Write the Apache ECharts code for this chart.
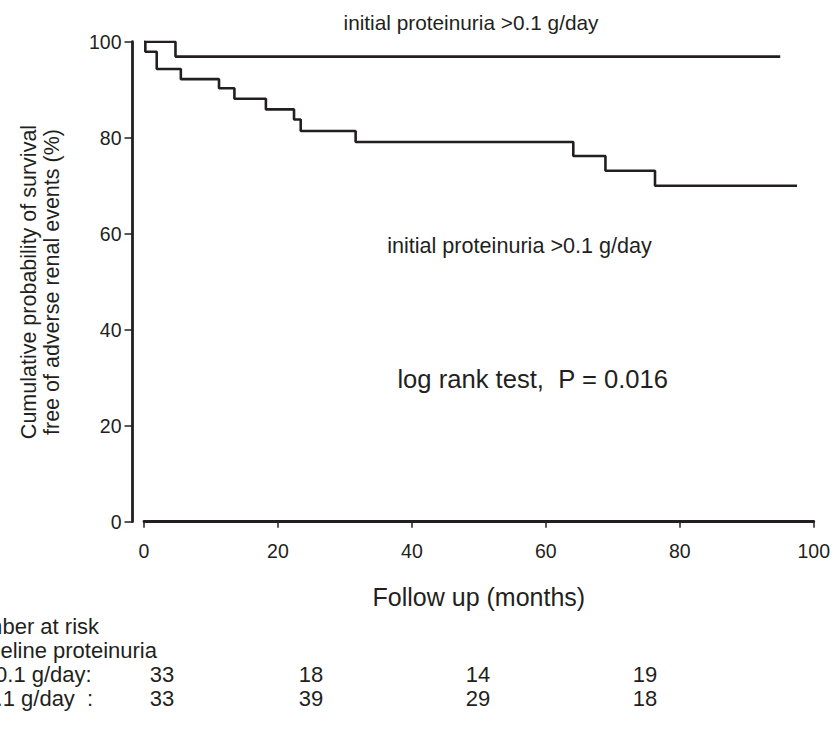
<!DOCTYPE html>
<html><head><meta charset="utf-8">
<script src="https://cdn.jsdelivr.net/npm/echarts/dist/echarts.min.js"></script>
<style>html,body{margin:0;padding:0;background:#fff}#c{width:833px;height:737px}</style>
</head><body><div id="c"></div>
<script>
// ---- data ----
const lowProtTimes  = [0, 4.7, 95.0];
const lowProtSurv   = [100, 96.9, 96.9];
const highProtTimes = [0, 0.2, 1.9, 5.5, 11.2, 13.5, 18.2, 22.4, 23.4, 31.6, 64.1, 68.9, 76.3, 97.5];
const highProtSurv  = [100, 97.9, 94.3, 92.2, 90.3, 88.1, 85.9, 83.8, 81.4, 79.1, 76.2, 73.1, 70.0, 70.0];
const xTickLabels = ['0', '20', '40', '60', '80', '100'];
const yTickLabels = ['0', '20', '40', '60', '80', '100'];
const riskHeader = ['Number at risk', 'Baseline proteinuria'];
const riskRowLabels = ['\u22640.1 g/day:', '>0.1 g/day  :'];
const riskLow  = [33, 18, 14, 19];
const riskHigh = [33, 39, 29, 18];
const curveLabelTop = 'initial proteinuria >0.1 g/day';
const curveLabelMid = 'initial proteinuria >0.1 g/day';
const testLabel = 'log rank test,  P = 0.016';
const xTitle = 'Follow up (months)';
const yTitle = ['Cumulative probability of survival', 'free of adverse renal events (%)'];

// ---- layout / style ----
const INK = '#231f20';
const FF = '"Liberation Sans", Arial, Helvetica, sans-serif';
const riskColX = [162, 311, 478, 645];
const riskRowY = [626, 650, 674, 698];
const riskLabelX = [-44, -37.5, -17, -28.5];

const zip = (a, b) => a.map((v, i) => [v, b[i]]);

const graphics = [
  {type:'text', x:471, y:22, style:{text:curveLabelTop, font:'20.8px ' + FF, fill:INK, textAlign:'center', textVerticalAlign:'middle'}},
  {type:'text', x:519.5, y:245.5, style:{text:curveLabelMid, font:'21.6px ' + FF, fill:INK, textAlign:'center', textVerticalAlign:'middle'}},
  {type:'text', x:668, y:379, style:{text:testLabel, font:'25.6px ' + FF, fill:INK, textAlign:'right', textVerticalAlign:'middle'}},
  {type:'text', x:40, y:282, rotation:Math.PI/2, style:{text:yTitle.join('\n'), font:'21.5px ' + FF, lineHeight:23, fill:INK, textAlign:'center', textVerticalAlign:'middle'}}
];
const rowTexts = [riskHeader[0], riskHeader[1], riskRowLabels[0], riskRowLabels[1]];
rowTexts.forEach((t, i) => graphics.push({type:'text', x:riskLabelX[i], y:riskRowY[i],
  style:{text:t, font:'22px ' + FF, lineHeight:22, fill:INK, textAlign:'left', textVerticalAlign:'middle'}}));
[riskLow, riskHigh].forEach((row, r) => row.forEach((v, j) => graphics.push({type:'text', x:riskColX[j], y:riskRowY[2 + r],
  style:{text:String(v), font:'22px ' + FF, lineHeight:22, fill:INK, textAlign:'center', textVerticalAlign:'middle'}})));

const chart = echarts.init(document.getElementById('c'), null, {renderer:'svg'});
chart.setOption({
  animation:false,
  backgroundColor:'#fff',
  grid:{left:144, right:19, top:41.7, bottom:215.3, containLabel:false},
  xAxis:{type:'value', min:0, max:100, interval:20,
    axisLine:{show:true, onZero:false, lineStyle:{color:INK, width:2.8}},
    axisTick:{show:true, length:6, lineStyle:{color:INK, width:1.5}},
    axisLabel:{margin:19, color:INK, fontSize:19.5, fontFamily:FF,
      formatter:(v) => xTickLabels[Math.round(v / 20)]},
    splitLine:{show:false},
    name:xTitle, nameLocation:'middle', nameGap:63,
    nameTextStyle:{color:INK, fontSize:25, fontFamily:FF}},
  yAxis:{type:'value', min:0, max:100, interval:20, offset:11.5,
    axisLine:{show:true, onZero:false, lineStyle:{color:INK, width:2.8}},
    axisTick:{show:true, length:8, lineStyle:{color:INK, width:1.5}},
    axisLabel:{margin:11, color:INK, fontSize:19.5, fontFamily:FF,
      formatter:(v) => yTickLabels[Math.round(v / 20)]},
    splitLine:{show:false}},
  series:[
    {type:'line', step:'end', symbol:'none', data:zip(lowProtTimes, lowProtSurv),
      lineStyle:{color:INK, width:2.6}},
    {type:'line', step:'end', symbol:'none', data:zip(highProtTimes, highProtSurv),
      lineStyle:{color:INK, width:2.6}}
  ],
  graphic:graphics
});
</script></body></html>
